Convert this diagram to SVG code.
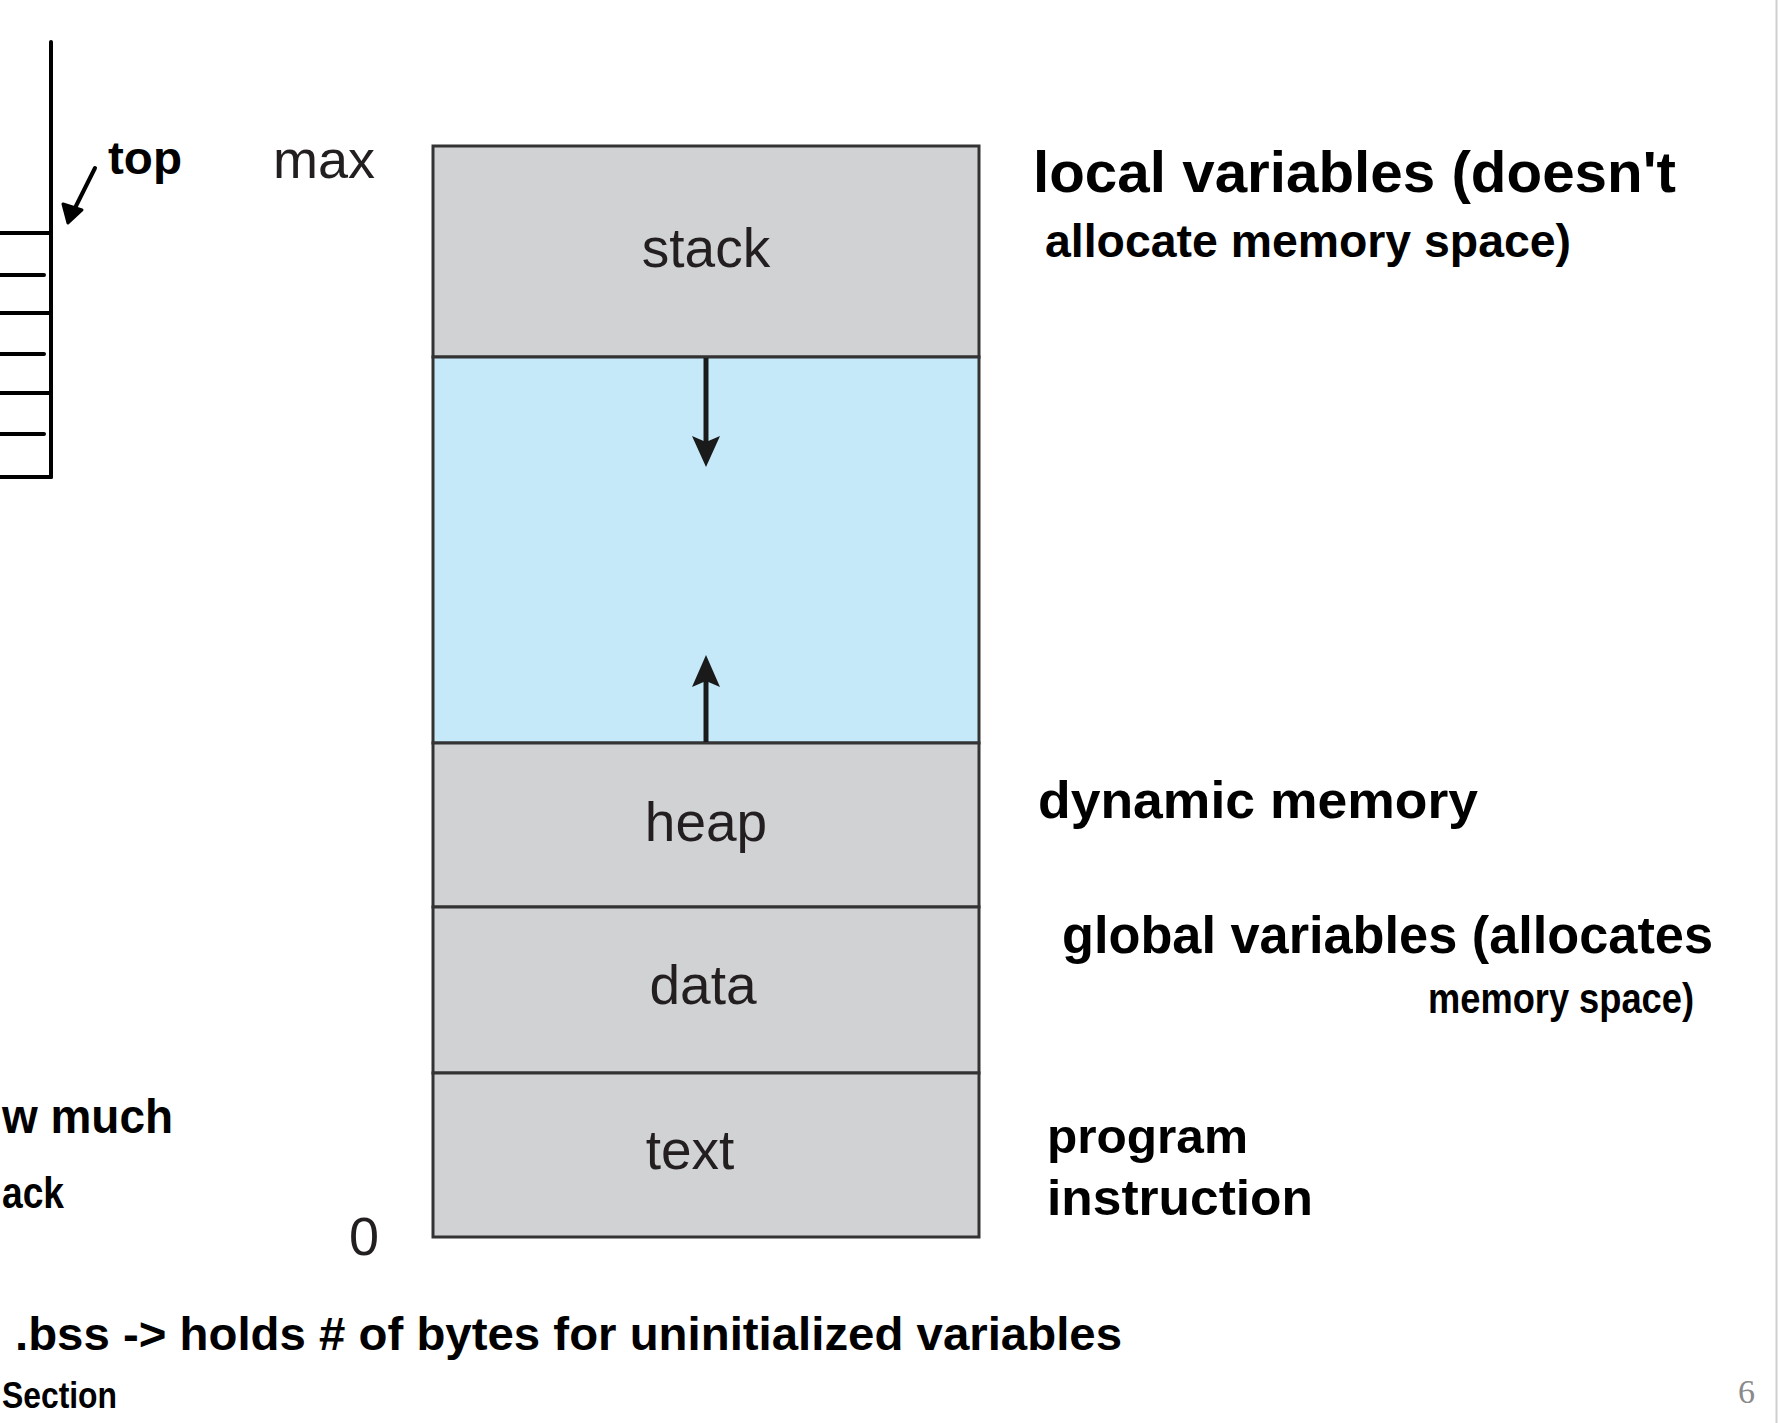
<svg xmlns="http://www.w3.org/2000/svg" width="1778" height="1423" viewBox="0 0 1778 1423">
  <style>
    .seg { stroke: #333333; stroke-width: 3; }
    .gray { fill: #d1d2d4; }
    .blue { fill: #c6e9f9; }
    .lbl { font-family: "Liberation Sans", Arial, sans-serif; font-size: 55px; fill: #231f20; text-anchor: middle; }
    .axis { font-family: "Liberation Sans", Arial, sans-serif; font-size: 54px; fill: #231f20; }
    .hand { font-family: "Liberation Sans", Arial, sans-serif; font-weight: bold; fill: #000000; }
    .ink { stroke: #000000; stroke-width: 4; fill: none; stroke-linecap: round; }
    .conn { stroke: #1a1a1a; stroke-width: 5; fill: none; }
    .head { fill: #1a1a1a; }
    .pg { font-family: "Liberation Serif", "Times New Roman", serif; font-size: 34px; fill: #8a8a8a; }
  </style>

  <rect x="0" y="0" width="1778" height="1423" fill="#ffffff"/>
  <line x1="1776.5" y1="0" x2="1776.5" y2="1423" stroke="#cfcfcf" stroke-width="2"/>

  <!-- left stack sketch -->
  <g id="stack-sketch">
    <line class="ink" x1="51" y1="42" x2="51" y2="477"/>
    <line class="ink" x1="-2" y1="233" x2="51" y2="233"/>
    <line class="ink" x1="-2" y1="275" x2="44" y2="275"/>
    <line class="ink" x1="-2" y1="313" x2="51" y2="313"/>
    <line class="ink" x1="-2" y1="354" x2="44" y2="354"/>
    <line class="ink" x1="-2" y1="393" x2="51" y2="393"/>
    <line class="ink" x1="-2" y1="434" x2="44" y2="434"/>
    <line class="ink" x1="-2" y1="477" x2="51" y2="477"/>
    <text class="hand" x="108" y="174" font-size="47" textLength="74" lengthAdjust="spacingAndGlyphs">top</text>
  </g>

  <!-- memory layout nodes -->
  <g id="node-stack">
    <rect class="seg gray" x="433" y="146" width="546" height="211"/>
    <text class="lbl" x="706" y="267">stack</text>
  </g>
  <g id="node-free">
    <rect class="seg blue" x="433" y="357" width="546" height="386"/>
  </g>
  <g id="node-heap">
    <rect class="seg gray" x="433" y="743" width="546" height="164"/>
    <text class="lbl" x="706" y="841">heap</text>
  </g>
  <g id="node-data">
    <rect class="seg gray" x="433" y="907" width="546" height="166"/>
    <text class="lbl" x="703" y="1004">data</text>
  </g>
  <g id="node-text">
    <rect class="seg gray" x="433" y="1073" width="546" height="164"/>
    <text class="lbl" x="690" y="1169">text</text>
  </g>

  <g id="axis-labels">
    <text class="axis" x="273" y="178">max</text>
    <text class="axis" x="349" y="1255">0</text>
  </g>

  <!-- connectors -->
  <g id="connectors">
    <line class="conn" x1="706" y1="358" x2="706" y2="444"/>
    <path class="head" d="M692,436 L706,467 L720,436 L706,442 Z"/>
    <line class="conn" x1="706" y1="742" x2="706" y2="679"/>
    <path class="head" d="M692,687 L706,655 L720,687 L706,681 Z"/>
    <line class="ink" stroke-width="6" x1="95" y1="168" x2="74" y2="210"/>
    <path d="M63,204 L68,223 L82,210 Z" fill="#000000" stroke="#000000" stroke-width="3" stroke-linejoin="round"/>
  </g>

  <!-- handwritten annotations -->
  <g id="note-stack">
    <text class="hand" x="1033" y="192" font-size="58" textLength="643" lengthAdjust="spacingAndGlyphs">local variables (doesn't</text>
    <text class="hand" x="1045" y="257" font-size="46" textLength="526" lengthAdjust="spacingAndGlyphs">allocate memory space)</text>
  </g>
  <g id="note-heap">
    <text class="hand" x="1038" y="818" font-size="52" textLength="440" lengthAdjust="spacingAndGlyphs">dynamic memory</text>
  </g>
  <g id="note-data">
    <text class="hand" x="1062" y="953" font-size="51" textLength="651" lengthAdjust="spacingAndGlyphs">global variables (allocates</text>
    <text class="hand" x="1428" y="1013" font-size="42" textLength="266" lengthAdjust="spacingAndGlyphs">memory space)</text>
  </g>
  <g id="note-text">
    <text class="hand" x="1047" y="1153" font-size="48" textLength="201" lengthAdjust="spacingAndGlyphs">program</text>
    <text class="hand" x="1047" y="1215" font-size="50" textLength="266" lengthAdjust="spacingAndGlyphs">instruction</text>
  </g>
  <g id="note-left">
    <text class="hand" x="2" y="1133" font-size="48" textLength="171" lengthAdjust="spacingAndGlyphs">w much</text>
    <text class="hand" x="2" y="1208" font-size="44" textLength="62" lengthAdjust="spacingAndGlyphs">ack</text>
  </g>
  <g id="note-bss">
    <text class="hand" x="15" y="1350" font-size="47" textLength="1107" lengthAdjust="spacingAndGlyphs">.bss -&gt; holds # of bytes for uninitialized variables</text>
    <text class="hand" x="2" y="1408" font-size="36" textLength="115" lengthAdjust="spacingAndGlyphs">Section</text>
  </g>

  <text class="pg" x="1738" y="1403">6</text>
</svg>
